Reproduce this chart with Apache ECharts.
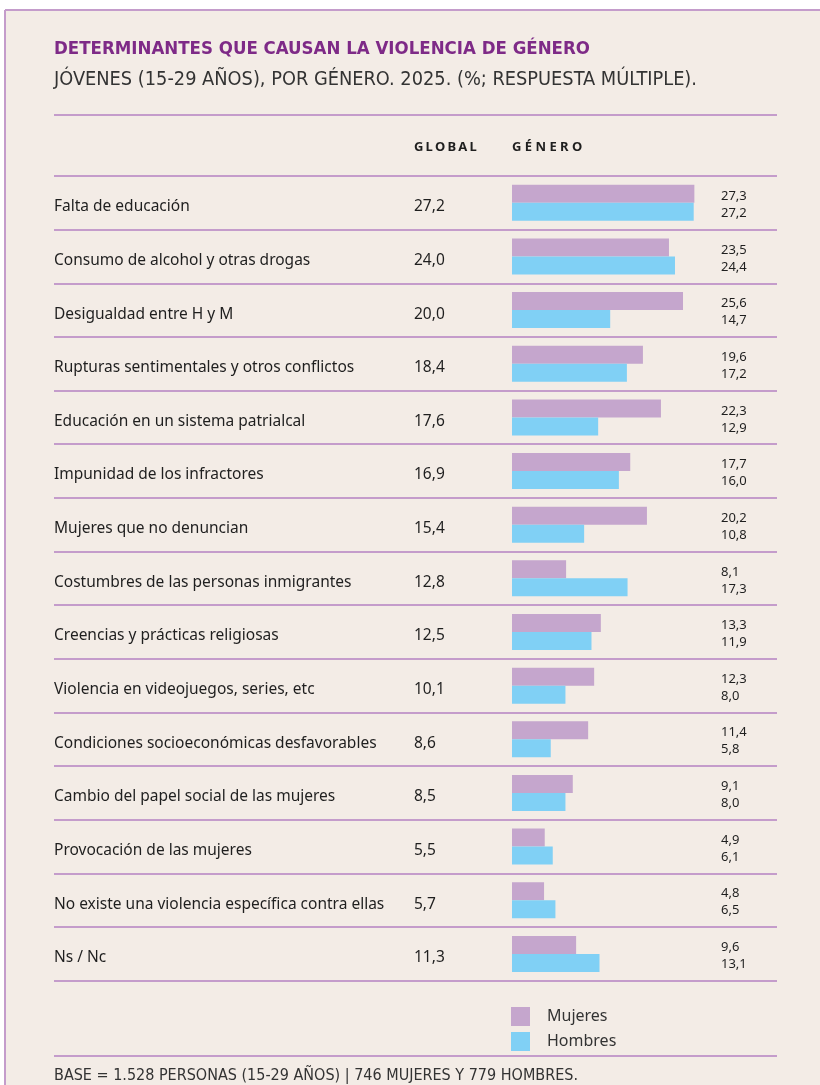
<!DOCTYPE html>
<html>
<head>
<meta charset="utf-8">
<script src="https://cdn.jsdelivr.net/npm/echarts@6/dist/echarts.min.js"></script>
<style>
  html, body { margin: 0; padding: 0; background: #fff; }
  #chart { width: 820px; height: 1085px; }
</style>
</head>
<body>
<div id="chart"></div>
<script>
const categories = [
  "Falta de educación",
  "Consumo de alcohol y otras drogas",
  "Desigualdad entre H y M",
  "Rupturas sentimentales y otros conflictos",
  "Educación en un sistema patrialcal",
  "Impunidad de los infractores",
  "Mujeres que no denuncian",
  "Costumbres de las personas inmigrantes",
  "Creencias y prácticas religiosas",
  "Violencia en videojuegos, series, etc",
  "Condiciones socioeconómicas desfavorables",
  "Cambio del papel social de las mujeres",
  "Provocación de las mujeres",
  "No existe una violencia específica contra ellas",
  "Ns / Nc"
];
const globalValues = [27.2, 24.0, 20.0, 18.4, 17.6, 16.9, 15.4, 12.8, 12.5, 10.1, 8.6, 8.5, 5.5, 5.7, 11.3];
const mujeres = [27.3, 23.5, 25.6, 19.6, 22.3, 17.7, 20.2, 8.1, 13.3, 12.3, 11.4, 9.1, 4.9, 4.8, 9.6];
const hombres = [27.2, 24.4, 14.7, 17.2, 12.9, 16.0, 10.8, 17.3, 11.9, 8.0, 5.8, 8.0, 6.1, 6.5, 13.1];

const fmt = v => v.toFixed(1).replace('.', ',');

const LINE = '#c49ccb';
const BG = '#f3ece6';
const TEXT = '#1f1f1f';
const FONT = "'Noto Sans', sans-serif";
const NARROW = "'Liberation Sans Narrow', 'DejaVu Sans Condensed', sans-serif";

// grid spans the row separators; 0 sits at x=512
const gridLeft = 54, gridRight = 777;
const zeroX = 512, pxPerUnit = 6.68;
const xMin = -(zeroX - gridLeft) / pxPerUnit;
const xMax = (gridRight - zeroX) / pxPerUnit;

const chart = echarts.init(document.getElementById('chart'));

const hiddenCat = {
  type: 'category',
  data: categories,
  inverse: true,
  axisLine: { show: false, onZero: false },
  axisTick: { show: false }
};

// rich styles: a bit of top padding nudges the row texts down
const rowText = { fontFamily: FONT, fontSize: 15.5, color: TEXT, padding: [8, 0, 0, 0] };
const valTop = { fontFamily: FONT, fontSize: 13, lineHeight: 17, color: TEXT, padding: [4, 0, 0, 0] };
const valBot = { fontFamily: FONT, fontSize: 13, lineHeight: 17, color: TEXT, padding: [4, 0, 0, 0] };

chart.setOption({
  backgroundColor: '#fff',
  animation: false,
  title: [
    { text: 'DETERMINANTES QUE CAUSAN LA VIOLENCIA DE GÉNERO', left: 54, top: 40, padding: 0,
      textStyle: { fontFamily: NARROW, fontWeight: 'bold', fontSize: 18.5, color: '#7e2a87' } },
    { text: 'JÓVENES (15-29 AÑOS), POR GÉNERO. 2025. (%; RESPUESTA MÚLTIPLE).', left: 54, top: 70, padding: 0,
      textStyle: { fontFamily: NARROW, fontWeight: 'normal', fontSize: 19.8, color: '#333' } },
    { text: 'G\u2009L\u2009O\u2009B\u2009A\u2009L', left: 414, top: 141, padding: 0,
      textStyle: { fontFamily: FONT, fontWeight: 'bold', fontSize: 13, color: TEXT } },
    { text: 'G É N E R O', left: 512, top: 141, padding: 0,
      textStyle: { fontFamily: FONT, fontWeight: 'bold', fontSize: 13, color: TEXT } },
    { text: 'BASE = 1.528 PERSONAS (15-29 AÑOS) | 746 MUJERES Y 779 HOMBRES.', left: 54, top: 1068, padding: 0,
      textStyle: { fontFamily: NARROW, fontWeight: 'normal', fontSize: 16, color: '#333' } }
  ],
  graphic: [
    { type: 'rect', z: -10, shape: { x: 5, y: 10, width: 815, height: 1075 }, style: { fill: BG } },
    { type: 'line', shape: { x1: 5, y1: 10, x2: 820, y2: 10 }, style: { stroke: LINE, lineWidth: 2 } },
    { type: 'line', shape: { x1: 5, y1: 10, x2: 5, y2: 1085 }, style: { stroke: LINE, lineWidth: 2 } },
    { type: 'line', shape: { x1: gridLeft, y1: 115, x2: gridRight, y2: 115 }, style: { stroke: LINE, lineWidth: 2 } },
    { type: 'line', shape: { x1: gridLeft, y1: 1056, x2: gridRight, y2: 1056 }, style: { stroke: LINE, lineWidth: 2 } }
  ],
  legend: {
    data: ['Mujeres', 'Hombres'],
    orient: 'vertical',
    left: 511, top: 1007, padding: 0,
    itemWidth: 19, itemHeight: 19, itemGap: 6,
    icon: 'rect',
    textStyle: { fontFamily: FONT, fontSize: 16, color: '#333', padding: [2, 0, 0, 12] }
  },
  grid: { left: gridLeft, top: 176, width: gridRight - gridLeft, height: 804.7 },
  xAxis: { type: 'value', min: xMin, max: xMax, show: false },
  yAxis: [
    Object.assign({}, hiddenCat, {
      splitLine: { show: true, lineStyle: { color: LINE, width: 2 } },
      axisLabel: { inside: true, margin: 0, align: 'left', rich: { a: rowText },
        formatter: v => '{a|' + v + '}' }
    }),
    Object.assign({}, hiddenCat, {
      // tuned by eye so the numbers start at x≈414
      axisLabel: { inside: true, margin: 363, align: 'left', rich: { a: rowText },
        formatter: (v, i) => '{a|' + fmt(globalValues[i]) + '}' }
    }),
    Object.assign({}, hiddenCat, {
      position: 'right',
      axisLabel: { inside: true, margin: gridRight - 721, align: 'left', rich: { t: valTop, b: valBot },
        formatter: (v, i) => '{t|' + fmt(mujeres[i]) + '}\n{b|' + fmt(hombres[i]) + '}' }
    })
  ],
  series: [
    { name: 'Mujeres', type: 'bar', data: mujeres, barWidth: 18, barGap: '0%', itemStyle: { color: '#c5a6cd' } },
    { name: 'Hombres', type: 'bar', data: hombres, barWidth: 18, barGap: '0%', itemStyle: { color: '#80d0f5' } }
  ]
});
</script>
</body>
</html>
